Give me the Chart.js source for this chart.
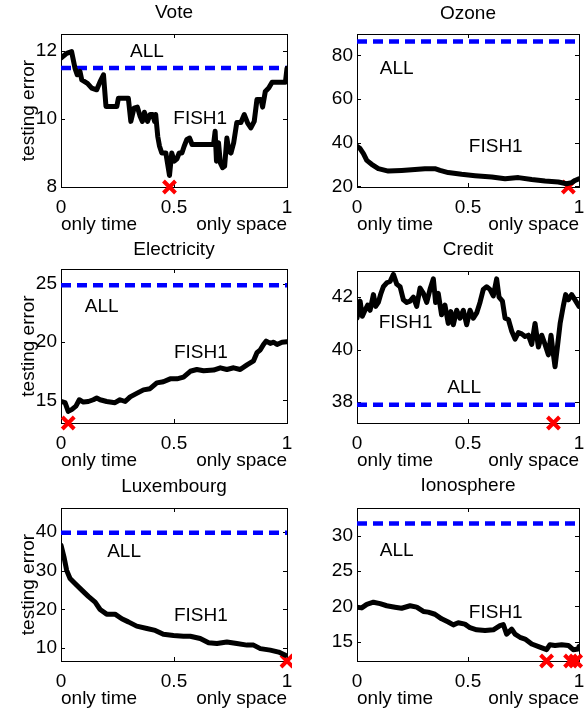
<!DOCTYPE html>
<html>
<head>
<meta charset="utf-8">
<script src="https://cdn.jsdelivr.net/npm/chart.js@4.4.1/dist/chart.umd.min.js"></script>
<style>
  html, body { margin: 0; padding: 0; background: #fff; }
  #figure { position: relative; width: 584px; height: 710px; overflow: hidden; }
  #figure canvas { position: absolute; }
</style>
</head>
<body>
<div id="figure"></div>
<script>
// Testing error along the time/space trade-off, six datasets

const xTicks = [0, 0.5, 1];
const xEndLabels = ['only time', 'only space'];

// Vote
const voteX = [0, 0.025, 0.047, 0.062, 0.072, 0.084, 0.092, 0.117, 0.136, 0.158, 0.173, 0.188, 0.199, 0.247, 0.254, 0.298, 0.309, 0.323, 0.338, 0.350, 0.360, 0.369, 0.383, 0.394, 0.406, 0.414, 0.419, 0.428, 0.436, 0.446, 0.464, 0.471, 0.480, 0.490, 0.501, 0.513, 0.523, 0.535, 0.545, 0.557, 0.569, 0.580, 0.675, 0.682, 0.688, 0.697, 0.705, 0.715, 0.724, 0.734, 0.743, 0.752, 0.764, 0.778, 0.796, 0.811, 0.826, 0.840, 0.855, 0.867, 0.885, 0.892, 0.904, 0.919, 0.934, 0.993, 1];
const voteY = [11.79, 11.93, 11.98, 11.49, 11.30, 11.40, 11.15, 11.05, 10.91, 10.86, 11.10, 11.30, 10.37, 10.37, 10.61, 10.61, 9.93, 10.32, 10.35, 10.08, 9.93, 10.20, 9.93, 10.13, 10.13, 9.93, 10.13, 9.49, 9.20, 9.00, 9.00, 8.71, 8.34, 9.00, 8.76, 8.83, 9.00, 9.00, 9.20, 9.40, 9.44, 9.25, 9.25, 9.64, 8.76, 9.30, 8.71, 8.57, 8.61, 9.44, 9.05, 9.00, 9.30, 9.90, 9.90, 10.13, 9.88, 9.74, 9.93, 10.57, 10.57, 10.35, 10.81, 10.91, 11.08, 11.08, 11.49];
const voteAll = 11.5;
const voteBestX = [0.48];
const voteRange = [8, 12.5];
const voteTicks = [8, 10, 12];

// Ozone
const ozoneX = [0, 0.014, 0.029, 0.044, 0.066, 0.096, 0.141, 0.201, 0.261, 0.306, 0.351, 0.374, 0.411, 0.471, 0.532, 0.607, 0.667, 0.727, 0.787, 0.847, 0.907, 0.944, 0.967, 0.982, 1];
const ozoneY = [38.4, 37.3, 35.0, 31.9, 30.1, 28.1, 27.0, 27.3, 27.7, 28.1, 28.1, 27.3, 26.3, 25.5, 24.9, 24.3, 23.5, 24.0, 23.1, 22.4, 22.0, 21.2, 21.7, 22.7, 23.5];
const ozoneAll = 86.4;
const ozoneBestX = [0.952];
const ozoneRange = [19.7, 89.8];
const ozoneTicks = [20, 40, 60, 80];

// Electricity
const elecX = [0, 0.018, 0.032, 0.047, 0.066, 0.081, 0.099, 0.121, 0.143, 0.158, 0.173, 0.202, 0.239, 0.261, 0.284, 0.306, 0.335, 0.365, 0.394, 0.424, 0.453, 0.483, 0.513, 0.542, 0.572, 0.601, 0.631, 0.675, 0.705, 0.734, 0.764, 0.793, 0.823, 0.852, 0.867, 0.882, 0.896, 0.908, 0.926, 0.941, 0.956, 0.978, 1];
const elecY = [14.9, 14.8, 14.05, 14.2, 14.5, 15.05, 14.85, 14.9, 15.05, 15.2, 15.05, 14.9, 14.8, 15.05, 14.9, 15.3, 15.6, 15.9, 16.0, 16.5, 16.6, 16.85, 16.85, 17.0, 17.5, 17.65, 17.55, 17.6, 17.8, 17.65, 17.8, 17.65, 18.05, 18.4, 19.1, 19.35, 19.8, 20.1, 19.9, 20.0, 19.8, 20.0, 20.05];
const elecAll = 24.9;
const elecBestX = [0.032];
const elecRange = [13.05, 26.3];
const elecTicks = [15, 20, 25];

// Credit
const creditX = [0, 0.014, 0.024, 0.036, 0.048, 0.059, 0.074, 0.084, 0.096, 0.108, 0.119, 0.134, 0.149, 0.164, 0.179, 0.194, 0.209, 0.224, 0.239, 0.254, 0.269, 0.284, 0.299, 0.314, 0.329, 0.344, 0.354, 0.366, 0.381, 0.396, 0.411, 0.423, 0.434, 0.449, 0.464, 0.479, 0.494, 0.509, 0.524, 0.539, 0.554, 0.569, 0.584, 0.599, 0.614, 0.629, 0.640, 0.655, 0.667, 0.682, 0.697, 0.712, 0.727, 0.742, 0.757, 0.772, 0.787, 0.802, 0.817, 0.832, 0.847, 0.862, 0.874, 0.881, 0.892, 0.902, 0.915, 0.929, 0.940, 0.952, 0.967, 0.982, 1];
const creditY = [41.2, 41.85, 41.27, 41.5, 41.7, 41.5, 42.1, 41.65, 41.8, 42.15, 42.4, 42.55, 42.6, 42.87, 42.5, 42.4, 41.9, 41.8, 41.85, 42.0, 41.65, 42.35, 42.15, 41.8, 42.3, 42.7, 41.8, 42.15, 41.33, 41.7, 41.0, 41.45, 40.95, 41.5, 41.2, 41.5, 40.95, 41.5, 41.2, 41.4, 41.8, 42.3, 42.4, 42.3, 42.05, 42.7, 42.0, 41.85, 41.2, 41.15, 40.7, 40.4, 40.65, 40.6, 40.5, 40.55, 40.2, 41.0, 40.1, 40.55, 40.2, 39.8, 40.55, 40.05, 39.35, 40.05, 41.0, 41.65, 42.1, 41.9, 42.1, 41.9, 41.65];
const creditAll = 37.9;
const creditBestX = [0.885];
const creditRange = [37.2, 43];
const creditTicks = [38, 40, 42];

// Luxembourg
const luxX = [0, 0.013, 0.025, 0.040, 0.062, 0.092, 0.121, 0.151, 0.173, 0.202, 0.239, 0.269, 0.298, 0.335, 0.380, 0.417, 0.453, 0.498, 0.542, 0.572, 0.616, 0.653, 0.690, 0.734, 0.778, 0.823, 0.852, 0.882, 0.926, 0.963, 0.993];
const luxY = [36.6, 33.6, 30.1, 28.0, 26.7, 25.0, 23.4, 21.9, 20.0, 18.8, 18.8, 17.6, 16.8, 15.7, 15.1, 14.6, 13.6, 13.3, 13.1, 13.1, 12.5, 11.4, 11.2, 11.6, 11.2, 10.8, 10.8, 9.9, 9.5, 9.0, 8.2];
const luxAll = 39.8;
const luxBestX = [1];
const luxRange = [6.7, 46.2];
const luxTicks = [10, 20, 30, 40];

// Ionosphere
const ionoX = [0, 0.021, 0.044, 0.074, 0.104, 0.134, 0.171, 0.201, 0.239, 0.269, 0.299, 0.321, 0.351, 0.381, 0.411, 0.434, 0.456, 0.486, 0.509, 0.539, 0.577, 0.614, 0.644, 0.659, 0.674, 0.697, 0.712, 0.734, 0.757, 0.787, 0.824, 0.854, 0.869, 0.892, 0.922, 0.952, 0.974, 0.997, 1];
const ionoY = [19.9, 19.8, 20.3, 20.6, 20.4, 20.1, 19.9, 19.75, 20.1, 19.9, 19.3, 19.2, 18.9, 18.25, 17.8, 17.4, 17.7, 17.5, 17.0, 16.7, 16.6, 16.7, 17.3, 17.45, 16.1, 16.8, 16.1, 15.65, 15.4, 14.7, 14.25, 13.9, 14.6, 14.5, 14.6, 14.5, 13.9, 14.0, 14.35];
const ionoAll = 31.7;
const ionoBestX = [0.854, 0.962, 0.985];
const ionoRange = [12.3, 33.9];
const ionoTicks = [15, 20, 25, 30];

const FONT = '"Liberation Sans", Arial, Helvetica, sans-serif';
const FONT_SIZE = 19;

// panel placement, in pixels local to each canvas; label spots in data units
const panels = [
    { title: 'Vote', xs: voteX, ys: voteY, all: voteAll, bestX: voteBestX, range: voteRange, ticks: voteTicks,
      left: 0, top: 0, width: 292, height: 235, plotLeft: 61, plotTop: 34, plotRight: 287, plotBottom: 187, titleY: 13,
      allAt: [0.38, 11.98], fishAt: [0.616, 10.0], yTitle: true },
    { title: 'Ozone', xs: ozoneX, ys: ozoneY, all: ozoneAll, bestX: ozoneBestX, range: ozoneRange, ticks: ozoneTicks,
      left: 292, top: 0, width: 292, height: 235, plotLeft: 65, plotTop: 34, plotRight: 287, plotBottom: 187, titleY: 13.3,
      allAt: [0.179, 74.0], fishAt: [0.625, 38.1], yTitle: false },
    { title: 'Electricity', xs: elecX, ys: elecY, all: elecAll, bestX: elecBestX, range: elecRange, ticks: elecTicks,
      left: 0, top: 235, width: 292, height: 235, plotLeft: 61, plotTop: 34, plotRight: 287, plotBottom: 188, titleY: 15,
      allAt: [0.18, 23.08], fishAt: [0.619, 19.07], yTitle: true },
    { title: 'Credit', xs: creditX, ys: creditY, all: creditAll, bestX: creditBestX, range: creditRange, ticks: creditTicks,
      left: 292, top: 235, width: 292, height: 235, plotLeft: 65, plotTop: 36, plotRight: 287, plotBottom: 188, titleY: 15,
      allAt: [0.483, 38.54], fishAt: [0.219, 41.01], yTitle: false },
    { title: 'Luxembourg', xs: luxX, ys: luxY, all: luxAll, bestX: luxBestX, range: luxRange, ticks: luxTicks,
      left: 0, top: 470, width: 292, height: 240, plotLeft: 61, plotTop: 38, plotRight: 287, plotBottom: 191, titleY: 16.7,
      allAt: [0.279, 34.84], fishAt: [0.619, 18.5], yTitle: true },
    { title: 'Ionosphere', xs: ionoX, ys: ionoY, all: ionoAll, bestX: ionoBestX, range: ionoRange, ticks: ionoTicks,
      left: 292, top: 470, width: 292, height: 240, plotLeft: 65, plotTop: 38, plotRight: 287, plotBottom: 191, titleY: 16,
      allAt: [0.179, 27.9], fishAt: [0.625, 19.05], yTitle: false }
];

// Matlab style box with inward ticks on all four sides
const axesBox = {
    id: 'axesBox',
    beforeDatasetsDraw(chart) {
        const { ctx, chartArea: a, scales } = chart;
        const len = 4;
        ctx.save();
        ctx.strokeStyle = '#000';
        ctx.lineWidth = 1;
        ctx.strokeRect(Math.round(a.left) + 0.5, Math.round(a.top) + 0.5,
            Math.round(a.right - a.left), Math.round(a.bottom - a.top));
        ctx.beginPath();
        scales.y.ticks.forEach(t => {
            const y = Math.round(scales.y.getPixelForValue(t.value)) + 0.5;
            ctx.moveTo(a.left, y); ctx.lineTo(a.left + len, y);
            ctx.moveTo(a.right, y); ctx.lineTo(a.right - len, y);
        });
        scales.x.ticks.forEach(t => {
            const x = Math.round(scales.x.getPixelForValue(t.value)) + 0.5;
            ctx.moveTo(x, a.bottom); ctx.lineTo(x, a.bottom - len);
            ctx.moveTo(x, a.top); ctx.lineTo(x, a.top + len);
        });
        ctx.stroke();
        ctx.restore();
    }
};

// in-plot labels and the two end captions under the x axis
const textMarks = {
    id: 'textMarks',
    afterDatasetsDraw(chart, args, opts) {
        const { ctx, chartArea: a, scales } = chart;
        ctx.save();
        ctx.fillStyle = '#000';
        ctx.font = FONT_SIZE + 'px ' + FONT;
        ctx.textBaseline = 'middle';
        ctx.textAlign = 'center';
        ctx.fillText('ALL', scales.x.getPixelForValue(opts.allAt[0]), scales.y.getPixelForValue(opts.allAt[1]));
        ctx.fillText('FISH1', scales.x.getPixelForValue(opts.fishAt[0]), scales.y.getPixelForValue(opts.fishAt[1]));
        ctx.textBaseline = 'alphabetic';
        ctx.textAlign = 'left';
        ctx.fillText(xEndLabels[0], a.left, a.bottom + 43);
        ctx.textAlign = 'right';
        ctx.fillText(xEndLabels[1], a.right, a.bottom + 43);
        ctx.restore();
    }
};

const figure = document.getElementById('figure');

function makePanel(p) {
    const canvas = document.createElement('canvas');
    canvas.width = p.width;
    canvas.height = p.height;
    canvas.style.left = p.left + 'px';
    canvas.style.top = p.top + 'px';
    figure.appendChild(canvas);

    const lineH = FONT_SIZE * 1.2;
    const titlePadTop = p.titleY - lineH / 2;
    const titlePadBottom = p.plotTop - lineH - titlePadTop;
    const font = { family: FONT, size: FONT_SIZE, weight: 'normal' };

    return new Chart(canvas, {
        type: 'scatter',
        data: {
            datasets: [
                {
                    label: 'FISH1',
                    data: p.xs.map((x, i) => ({ x: x, y: p.ys[i] })),
                    showLine: true,
                    borderColor: '#000',
                    borderWidth: 5,
                    borderJoinStyle: 'round',
                    borderCapStyle: 'round',
                    pointRadius: 0
                },
                {
                    label: 'ALL',
                    data: xTicks.filter((v, i) => i !== 1).map(x => ({ x: x, y: p.all })),
                    showLine: true,
                    borderColor: '#0000ff',
                    borderWidth: 4.5,
                    borderDash: [10, 6],
                    pointRadius: 0
                },
                {
                    label: 'best',
                    data: p.bestX.map(x => ({ x: x, y: p.range[0] })),
                    showLine: false,
                    pointStyle: 'crossRot',
                    pointRadius: 8.5,
                    borderColor: '#ff0000',
                    borderWidth: 4,
                    pointBorderWidth: 4,
                    clip: false
                }
            ]
        },
        options: {
            responsive: false,
            animation: false,
            events: [],
            layout: {
                autoPadding: false,
                padding: { left: 0, top: 0, right: p.width - p.plotRight, bottom: 0 }
            },
            plugins: {
                legend: { display: false },
                tooltip: { enabled: false },
                title: {
                    display: true,
                    text: p.title,
                    fullSize: false,
                    color: '#000',
                    font: font,
                    padding: { top: titlePadTop, bottom: titlePadBottom }
                },
                textMarks: { allAt: p.allAt, fishAt: p.fishAt }
            },
            scales: {
                x: {
                    type: 'linear',
                    min: 0,
                    max: 1,
                    grid: { display: false, drawTicks: false, tickLength: 0 },
                    border: { display: false },
                    ticks: {
                        color: '#000',
                        font: font,
                        padding: 9,
                        autoSkip: false,
                        maxRotation: 0,
                        callback: v => String(v)
                    },
                    afterBuildTicks: s => { s.ticks = xTicks.map(v => ({ value: v })); },
                    afterFit: s => {
                        s.height = p.height - p.plotBottom;
                        s.paddingLeft = 0;
                        s.paddingRight = 0;
                    }
                },
                y: {
                    type: 'linear',
                    min: p.range[0],
                    max: p.range[1],
                    grid: { display: false, drawTicks: false, tickLength: 0 },
                    border: { display: false },
                    ticks: {
                        color: '#000',
                        font: font,
                        padding: 4,
                        autoSkip: false,
                        callback: v => String(v)
                    },
                    title: {
                        display: p.yTitle,
                        text: 'testing error',
                        color: '#000',
                        font: font,
                        padding: { top: 17, bottom: 0 }
                    },
                    afterBuildTicks: s => { s.ticks = p.ticks.map(v => ({ value: v })); },
                    afterFit: s => {
                        s.width = p.plotLeft;
                        s.paddingTop = 0;
                        s.paddingBottom = 0;
                    }
                }
            }
        },
        plugins: [axesBox, textMarks]
    });
}

panels.forEach(makePanel);
</script>
</body>
</html>
